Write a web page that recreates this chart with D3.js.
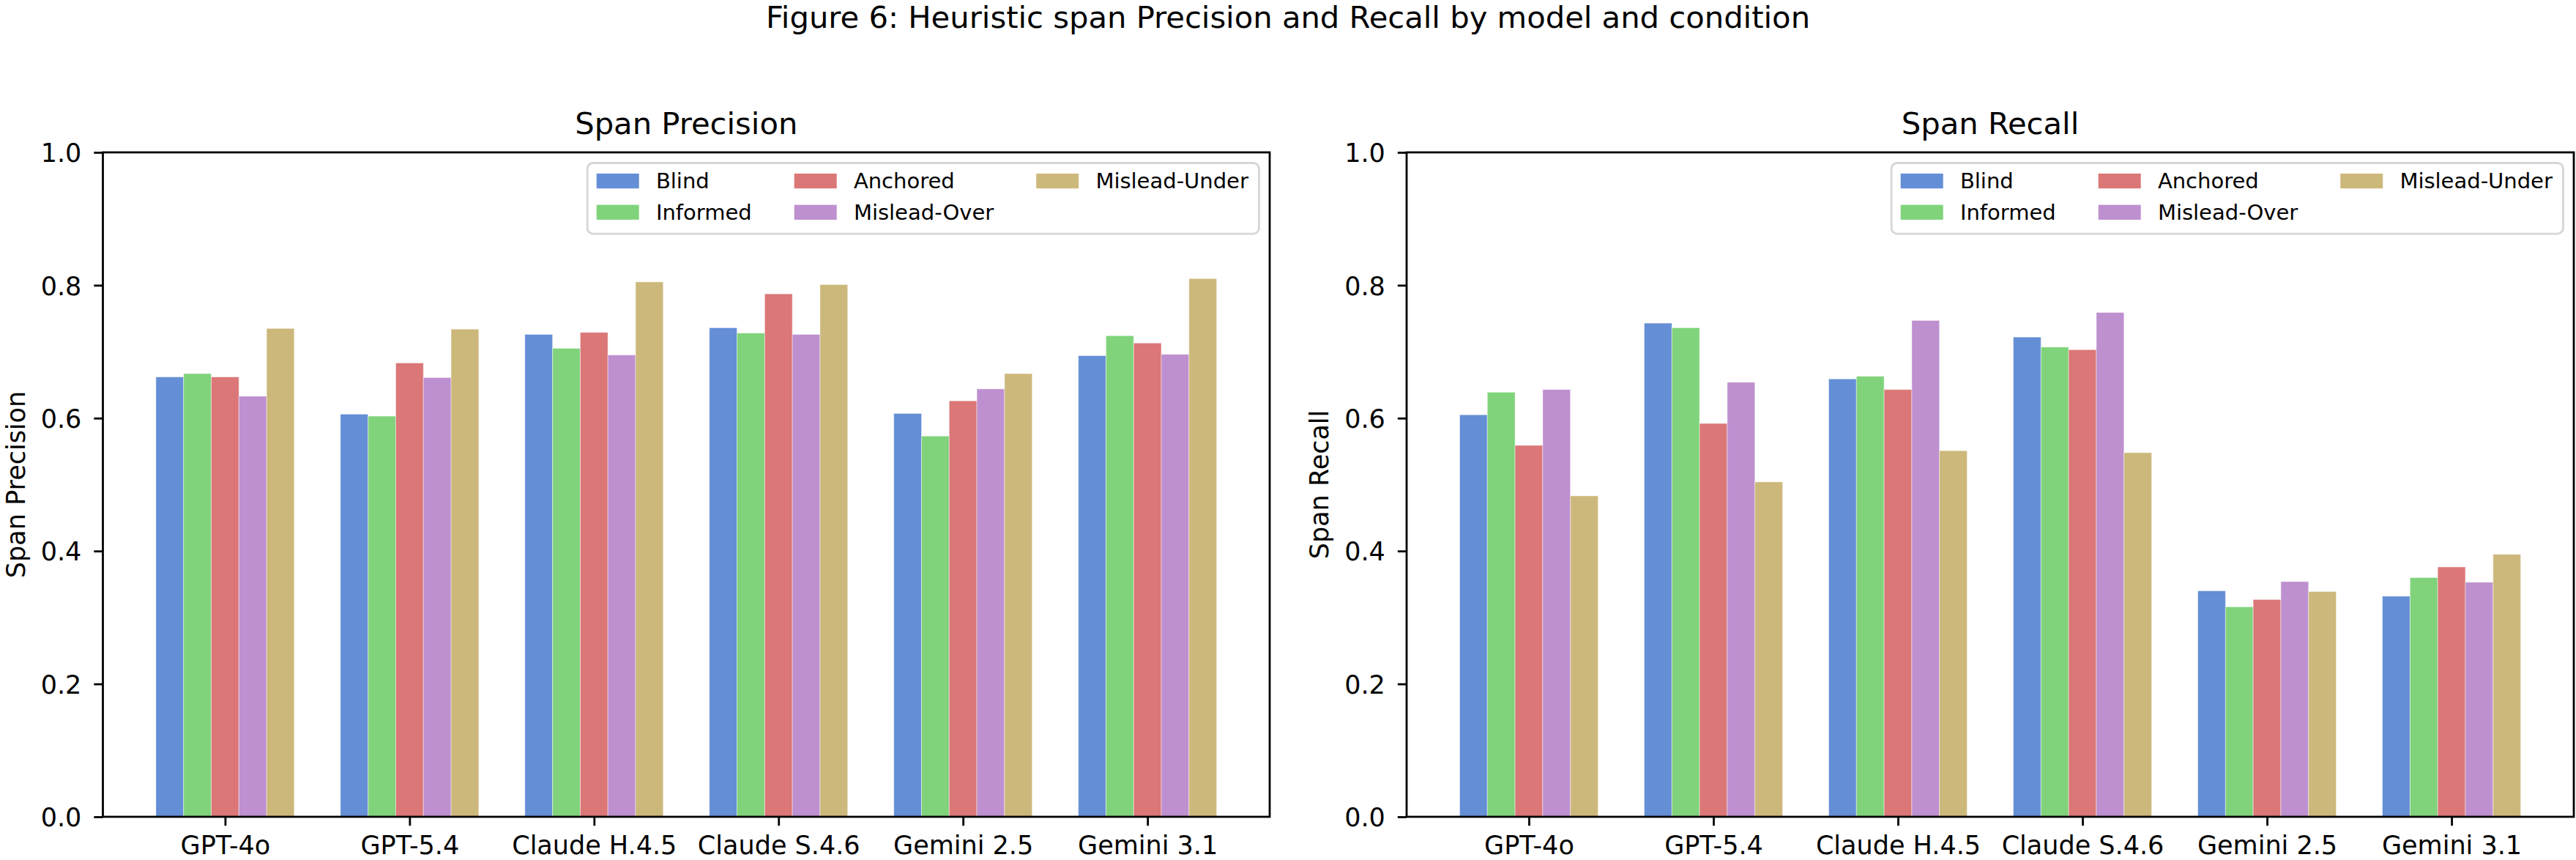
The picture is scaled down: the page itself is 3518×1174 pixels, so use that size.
<!DOCTYPE html>
<html>
<head>
<meta charset="utf-8">
<style>
body { margin: 0; background: #fff; }
svg text { font-family: "DejaVu Sans", sans-serif; fill: #000; }
</style>
</head>
<body>
<script src="https://cdn.jsdelivr.net/npm/d3@7/dist/d3.min.js"></script>
<script>
// chart data
var models = ["GPT-4o", "GPT-5.4", "Claude H.4.5", "Claude S.4.6", "Gemini 2.5", "Gemini 3.1"];
var conditions = ["Blind", "Informed", "Anchored", "Mislead-Over", "Mislead-Under"];
var condColors = ["#648ed6", "#80d37b", "#db7777", "#be90cf", "#cdb87c"];
var yTicks = [0.0, 0.2, 0.4, 0.6, 0.8, 1.0];

// span precision, one array per condition (model order)
var precBlind    = [0.662, 0.606, 0.726, 0.736, 0.607, 0.694];
var precInformed = [0.667, 0.603, 0.705, 0.728, 0.573, 0.724];
var precAnchored = [0.662, 0.683, 0.729, 0.787, 0.626, 0.713];
var precOver     = [0.633, 0.661, 0.695, 0.726, 0.644, 0.696];
var precUnder    = [0.735, 0.734, 0.805, 0.801, 0.667, 0.810];

// span recall
var recBlind    = [0.605, 0.743, 0.659, 0.722, 0.340, 0.332];
var recInformed = [0.639, 0.736, 0.663, 0.707, 0.316, 0.360];
var recAnchored = [0.559, 0.592, 0.643, 0.703, 0.327, 0.376];
var recOver     = [0.643, 0.654, 0.747, 0.759, 0.354, 0.353];
var recUnder    = [0.483, 0.504, 0.551, 0.548, 0.339, 0.395];

var W = 3518, H = 1174;
var tickFont = 35, titleFont = 41.7, legendFont = 29;
var barW = 0.15;

var svg = d3.select("body").append("svg")
    .attr("width", W)
    .attr("height", H);

svg.append("rect").attr("width", W).attr("height", H).attr("fill", "#fff");

svg.append("text")
    .attr("x", W / 2)
    .attr("y", 38)
    .attr("text-anchor", "middle")
    .style("font-size", titleFont + "px")
    .text("Figure 6: Heuristic span Precision and Recall by model and condition");

function drawPanel(left, right, title, ylabel, series) {
  var top = 208, bottom = 1115;
  var g = svg.append("g");

  var x = d3.scaleLinear()
      .domain([-0.6625, models.length - 1 + 0.6625])
      .range([left, right]);
  var y = d3.scaleLinear().domain([0, 1]).range([bottom, top]);

  // bars
  series.forEach(function (vals, j) {
    g.append("g").selectAll("rect")
      .data(vals)
      .join("rect")
        .attr("x", function (d, i) { return x(i + (j - 2.5) * barW); })
        .attr("y", function (d) { return y(d); })
        .attr("width", x(barW) - x(0))
        .attr("height", function (d) { return y(0) - y(d); })
        .attr("fill", condColors[j])
        .attr("stroke", "#fff")
        .attr("stroke-opacity", 0.45)
        .attr("stroke-width", 1);
  });

  // y axis
  var yAxis = d3.axisLeft(y)
      .tickValues(yTicks)
      .tickFormat(d3.format(".1f"))
      .tickSize(12.2)
      .tickPadding(17);
  var ya = g.append("g")
      .attr("transform", "translate(" + left + ",0)")
      .call(yAxis);

  // x axis
  var xAxis = d3.axisBottom(x)
      .tickValues(d3.range(models.length))
      .tickFormat(function (i) { return models[i]; })
      .tickSize(12.2)
      .tickPadding(0);
  var xa = g.append("g")
      .attr("transform", "translate(0," + bottom + ")")
      .call(xAxis);

  [ya, xa].forEach(function (a) {
    a.select(".domain").remove();
    a.selectAll(".tick line").attr("stroke", "#000").attr("stroke-width", 2.8);
    a.selectAll(".tick text")
      .style("font-size", tickFont + "px")
      .style("font-family", "DejaVu Sans");
  });
  xa.selectAll(".tick text").attr("dy", null).attr("y", 1166 - bottom);
  ya.selectAll(".tick text").attr("dy", "0.36em");

  // frame
  g.append("rect")
      .attr("x", left).attr("y", top)
      .attr("width", right - left).attr("height", bottom - top)
      .attr("fill", "none")
      .attr("stroke", "#000")
      .attr("stroke-width", 2.8);

  g.append("text")
      .attr("x", (left + right) / 2)
      .attr("y", 183)
      .attr("text-anchor", "middle")
      .style("font-size", titleFont + "px")
      .text(title);

  g.append("text")
      .attr("transform", "translate(" + (left - 107) + "," + ((top + bottom) / 2) + ") rotate(-90)")
      .attr("text-anchor", "middle")
      .style("font-size", tickFont + "px")
      .text(ylabel);

  // legend, 3 columns filled column-wise, upper right
  var handleW = 2.0 * legendFont, handleH = 0.7 * legendFont;
  var textPad = 0.8 * legendFont, colSpace = 2.0 * legendFont, pad = 0.4 * legendFont;
  var nrows = 2;
  var leg = g.append("g");
  var box = leg.append("rect");
  var items = conditions.map(function (c, k) {
    var t = leg.append("text")
        .style("font-size", legendFont + "px")
        .text(c);
    return { name: c, col: Math.floor(k / nrows), row: k % nrows, node: t, w: t.node().getComputedTextLength(), color: condColors[k] };
  });
  var colW = [0, 0, 0];
  items.forEach(function (it) { colW[it.col] = Math.max(colW[it.col], handleW + textPad + it.w); });
  var boxW = pad * 2 + d3.sum(colW) + colSpace * 2 + 4;
  var boxH = 96.6;
  var bx = right - 14.5 - boxW, by = top + 14.5;
  box.attr("x", bx).attr("y", by)
      .attr("width", boxW).attr("height", boxH)
      .attr("rx", 8).attr("ry", 8)
      .attr("fill", "#fff").attr("fill-opacity", 0.8)
      .attr("stroke", "#d6d6d6").attr("stroke-width", 2.8);
  items.forEach(function (it) {
    var cx = bx + pad + 1;
    for (var c = 0; c < it.col; c++) cx += colW[c] + colSpace;
    var cy = by + 24.6 + it.row * 42.7;
    leg.append("rect")
        .attr("x", cx).attr("y", cy - handleH / 2)
        .attr("width", handleW).attr("height", handleH)
        .attr("fill", it.color);
    it.node.attr("x", cx + handleW + textPad).attr("y", cy + 10);
  });
}

drawPanel(140.5, 1734, "Span Precision", "Span Precision",
  [precBlind, precInformed, precAnchored, precOver, precUnder]);
drawPanel(1921, 3515, "Span Recall", "Span Recall",
  [recBlind, recInformed, recAnchored, recOver, recUnder]);
</script>
</body>
</html>
